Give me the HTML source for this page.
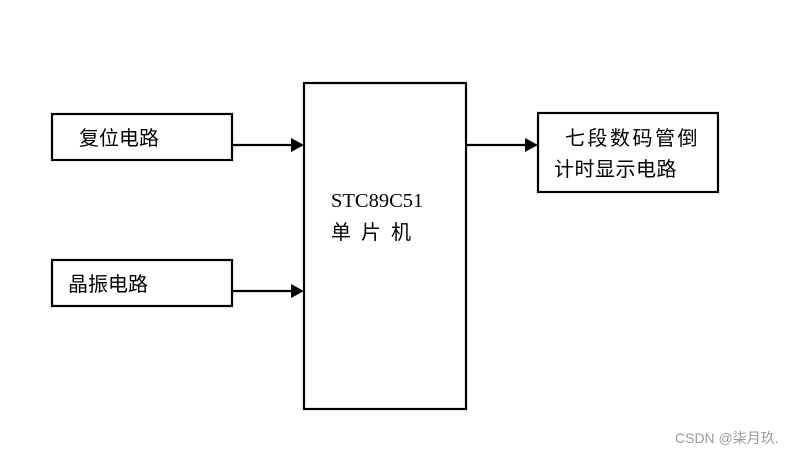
<!DOCTYPE html>
<html><head><meta charset="utf-8"><style>
html,body{margin:0;padding:0;background:#fff;}
svg{display:block;}
text{font-family:"Liberation Serif","Noto Sans CJK SC",serif;fill:#000;}
.c{font-family:"Noto Sans CJK SC","WenQuanYi Zen Hei",sans-serif;font-size:20px;}
</style></head><body>
<svg width="802" height="455" viewBox="0 0 802 455" xmlns="http://www.w3.org/2000/svg">
<g fill="none" stroke="#000" stroke-width="2.2">
<rect x="52" y="114" width="180" height="46"/>
<rect x="52" y="260" width="180" height="46"/>
<rect x="304" y="83" width="162" height="326"/>
<rect x="538" y="113" width="180" height="79"/>
<line x1="232" y1="145" x2="292" y2="145"/>
<line x1="232" y1="291" x2="292" y2="291"/>
<line x1="466" y1="145" x2="526" y2="145"/>
</g>
<polygon points="291,138 304,145 291,152" fill="#000"/>
<polygon points="291,284 304,291 291,298" fill="#000"/>
<polygon points="525,138 538,145 525,152" fill="#000"/>
<text class="c" x="79" y="145">复位电路</text>
<text class="c" x="68" y="291">晶振电路</text>
<text x="331" y="207" font-size="20.5">STC89C51</text>
<text class="c" x="331" y="239" letter-spacing="10">单片机</text>
<text class="c" x="565" y="145" letter-spacing="2.5">七段数码管倒</text>
<text class="c" x="554" y="176" letter-spacing="0.5">计时显示电路</text>
<text x="675" y="443" font-size="14" style="font-family:'Liberation Sans','Noto Sans CJK SC',sans-serif;fill:#999">CSDN @柒月玖.</text>
</svg>
</body></html>
